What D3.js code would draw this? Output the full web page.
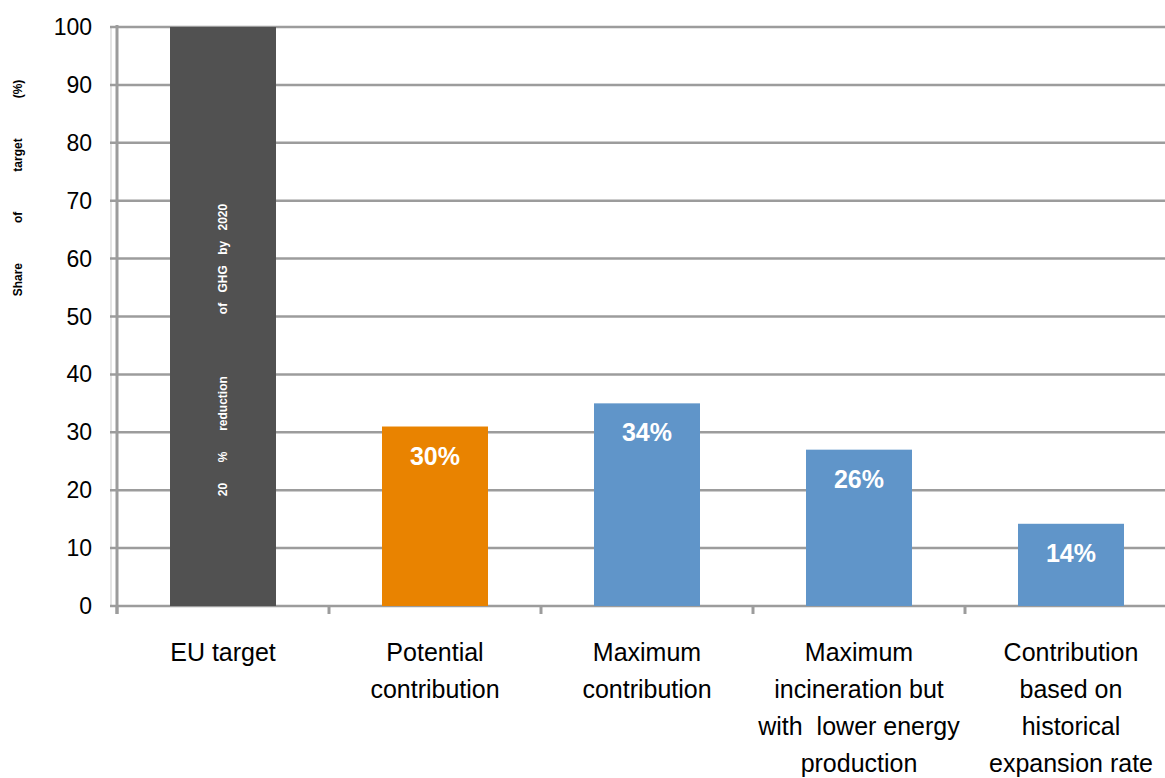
<!DOCTYPE html>
<html>
<head>
<meta charset="utf-8">
<script src="https://cdn.jsdelivr.net/npm/d3@7"></script>
<style>
body { margin: 0; background: #fff; }
svg { display: block; font-family: "Liberation Sans", Arial, sans-serif; }
</style>
</head>
<body>
<script>
var categories = [
	["EU target"],
	["Potential", "contribution"],
	["Maximum", "contribution"],
	["Maximum", "incineration but", "with  lower energy", "production"],
	["Contribution", "based on", "historical", "expansion rate"]
];
var values = [100, 31, 35, 27, 14.2];
var valueLabels = ["", "30%", "34%", "26%", "14%"];
var barColors = ["#515151", "#e98300", "#6095c9", "#6095c9", "#6095c9"];
var yTicks = [0, 10, 20, 30, 40, 50, 60, 70, 80, 90, 100];
var yTitle = "Share   of   target   (%)";
var barNote = "20  %  reduction      of GHG by 2020";

var w = 1165, h = 778;
var plotLeft = 117, plotTop = 27, plotBottom = 606;
var svg = d3.select("body").append("svg").attr("width", w).attr("height", h);

var x = d3.scaleBand().domain(d3.range(categories.length))
	.range([plotLeft, plotLeft + 212 * categories.length]).paddingInner(0.5).paddingOuter(0.25);
var y = d3.scaleLinear().domain([0, 100]).range([plotBottom, plotTop]);

// faint line left of axis
svg.append("line").attr("x1", 111).attr("x2", 111).attr("y1", plotTop).attr("y2", plotBottom)
	.attr("stroke", "#e4e4e4").attr("stroke-width", 2);

// grid
svg.selectAll(".grid").data(yTicks).enter().append("line")
	.attr("x1", plotLeft - 7).attr("x2", w)
	.attr("y1", function(d) { return y(d); }).attr("y2", function(d) { return y(d); })
	.attr("stroke", "#9c9c9c").attr("stroke-width", 2.5);

// bars
svg.selectAll(".bar").data(values).enter().append("rect")
	.attr("x", function(d, i) { return x(i); })
	.attr("y", function(d) { return y(d); })
	.attr("width", x.bandwidth())
	.attr("height", function(d) { return plotBottom - y(d); })
	.attr("fill", function(d, i) { return barColors[i]; });

// y axis line
svg.append("line").attr("x1", plotLeft).attr("x2", plotLeft).attr("y1", plotTop - 2).attr("y2", plotBottom + 8)
	.attr("stroke", "#9c9c9c").attr("stroke-width", 3);

// category ticks
var bounds = d3.range(categories.length).map(function(i) { return x(i) - x.step() * 0.25; });
svg.selectAll(".xtick").data(bounds).enter().append("line")
	.attr("x1", function(d) { return d; }).attr("x2", function(d) { return d; })
	.attr("y1", plotBottom).attr("y2", plotBottom + 8)
	.attr("stroke", "#9c9c9c").attr("stroke-width", 3);

// y tick labels
svg.selectAll(".ylab").data(yTicks).enter().append("text")
	.attr("x", 92).attr("y", function(d) { return y(d) + 8; })
	.attr("text-anchor", "end").attr("font-size", "23px").attr("fill", "#000")
	.text(function(d) { return d; });

// value labels
svg.selectAll(".vlab").data(values).enter().append("text")
	.attr("x", function(d, i) { return x(i) + x.bandwidth() / 2; })
	.attr("y", function(d) { return y(d) + 38; })
	.attr("text-anchor", "middle").attr("font-size", "25px").attr("font-weight", "bold")
	.attr("fill", "#fff")
	.text(function(d, i) { return valueLabels[i]; });

// category labels
var cat = svg.selectAll(".cat").data(categories).enter().append("text")
	.attr("text-anchor", "middle").attr("font-size", "25px").attr("fill", "#000")
	.attr("transform", function(d, i) { return "translate(" + (x(i) + x.bandwidth() / 2) + ",661)"; });
cat.selectAll("tspan").data(function(d) { return d; }).enter().append("tspan")
	.attr("x", 0).attr("y", function(d, j) { return j * 37; })
	.attr("xml:space", "preserve")
	.text(function(d) { return d; });

// y axis title
svg.append("text").attr("transform", "translate(22,188) rotate(-90)")
	.attr("text-anchor", "middle").attr("font-size", "12px").attr("font-weight", "bold")
	.attr("xml:space", "preserve").style("word-spacing", "10px")
	.text(yTitle);

// note inside EU bar
svg.append("text").attr("transform", "translate(" + (x(0) + x.bandwidth() / 2 + 4) + ",350) rotate(-90)")
	.attr("text-anchor", "middle").attr("font-size", "12px").attr("font-weight", "bold")
	.attr("fill", "#fff").attr("xml:space", "preserve").style("word-spacing", "7px")
	.text(barNote);
</script>
</body>
</html>
